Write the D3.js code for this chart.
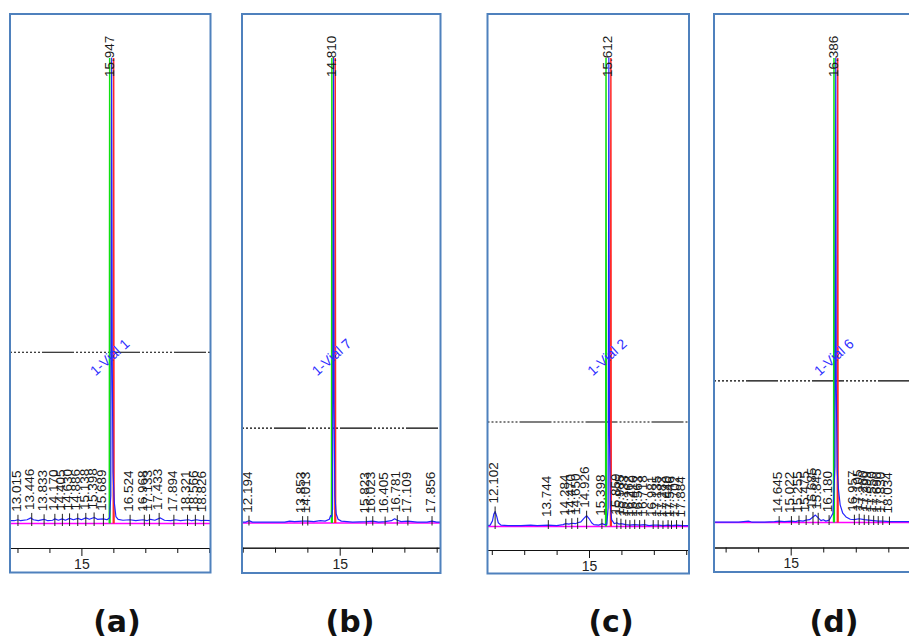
<!DOCTYPE html>
<html>
<head>
<meta charset="utf-8">
<script src="https://cdn.jsdelivr.net/npm/d3@7"></script>
<style>
  body { margin: 0; background: #fff; }
  svg { display: block; }
</style>
</head>
<body>
<svg id="chart" width="909" height="639"></svg>
<script>
// ---- data -------------------------------------------------------------
const panelNames = ["(a)", "(b)", "(c)", "(d)"];
const vialNames = ["1-Vial 1", "1-Vial 7", "1-Vial 2", "1-Vial 6"];

// retention-time window shown in each chromatogram (min)
const timeWindows = [[12.766, 19.04], [11.978, 18.118], [11.867, 18.086], [12.643, 18.82]];

// main peak (blue channel) and the same compound on the green / red channels
const mainPeaks  = ["15.947", "14.810", "15.612", "16.386"];
const greenPeaks = [15.885, 14.758, 15.525, 16.330];
const redPeaks   = [16.010, 14.862, 15.675, 16.445];
const peakHeight = 1000;

// dashed reference level (signal units)
const thresholds = [368, 204, 223, 305];

// integrated minor peaks (retention-time labels)
const minorA = ["13.015", "13.446", "13.833", "14.170", "14.405", "14.630", "14.886", "15.138", "15.398", "15.689",
                "16.524", "16.968", "17.133", "17.433", "17.894", "18.321", "18.566", "18.826"];
const minorB = ["12.194", "13.853", "14.013", "15.823", "16.023", "16.405", "16.781", "17.109", "17.856"];
const minorC = ["12.102", "13.744", "14.284", "14.470", "14.650", "14.926", "15.398",
                "15.859", "15.985", "16.133", "16.262", "16.410", "16.563", "16.718", "16.981", "17.135",
                "17.283", "17.440", "17.546", "17.702", "17.884"];
const minorD = ["14.645", "15.022", "15.255", "15.475", "15.685", "15.845", "16.180",
                "16.957", "17.105", "17.260", "17.399", "17.550", "17.690", "17.830", "18.034"];

// blue detector trace: [time (min), signal]
const blueA = [[12.77, 6], [12.9, 6], [13.015, 8], [13.1, 6], [13.3, 8], [13.42, 12], [13.5, 8], [13.65, 6],
  [13.83, 9], [13.95, 6], [14.1, 7], [14.17, 10], [14.28, 7], [14.4, 10], [14.5, 7], [14.63, 11], [14.75, 8],
  [14.89, 11], [15.0, 8], [15.14, 12], [15.25, 9], [15.4, 13], [15.5, 9], [15.69, 10], [15.8, 8], [15.88, 12],
  [15.92, 60], [15.947, 1000], [15.965, 350], [15.99, 110], [16.03, 45], [16.08, 15], [16.15, 9], [16.3, 7],
  [16.52, 8], [16.7, 6], [16.93, 8], [17.05, 6], [17.16, 9], [17.3, 7], [17.47, 12], [17.6, 7], [17.8, 6],
  [17.94, 8], [18.1, 6], [18.35, 8], [18.45, 6], [18.6, 8], [18.75, 6], [18.83, 7], [19.04, 6]];
const blueB = [[11.98, 2], [12.1, 2], [12.194, 5], [12.3, 2], [12.8, 2], [13.3, 2], [13.45, 4], [13.6, 3],
  [13.853, 4], [14.013, 4], [14.2, 3], [14.4, 5], [14.55, 4], [14.68, 8], [14.72, 16], [14.75, 14], [14.78, 30],
  [14.810, 1000], [14.825, 250], [14.85, 60], [14.89, 20], [14.95, 8], [15.05, 4], [15.4, 2], [15.823, 3],
  [16.023, 4], [16.2, 2], [16.405, 3], [16.6, 5], [16.70, 9], [16.781, 6], [16.9, 3], [17.109, 4], [17.4, 2],
  [17.7, 2], [17.856, 4], [18.0, 2], [18.12, 2]];
const blueC = [[11.87, 2], [11.95, 3], [12.02, 12], [12.06, 26], [12.102, 32], [12.15, 22], [12.2, 8],
  [12.28, 3], [12.5, 2], [12.9, 2], [13.2, 3], [13.4, 2], [13.744, 3], [14.0, 2], [14.2, 4], [14.284, 6],
  [14.38, 5], [14.47, 7], [14.58, 6], [14.65, 8], [14.75, 10], [14.85, 18], [14.926, 23], [15.0, 17],
  [15.08, 8], [15.15, 4], [15.3, 3], [15.398, 6], [15.48, 4], [15.55, 5], [15.59, 40], [15.612, 1000],
  [15.63, 200], [15.66, 40], [15.70, 14], [15.78, 6], [15.859, 8], [15.93, 5], [15.985, 6], [16.133, 4],
  [16.262, 3], [16.410, 4], [16.563, 3], [16.718, 4], [16.85, 2], [16.981, 3], [17.135, 3], [17.283, 2],
  [17.440, 3], [17.546, 2], [17.702, 3], [17.884, 2], [18.09, 2]];
const blueD = [[12.64, 1], [13.0, 1], [13.4, 1], [13.7, 3], [13.8, 1], [14.2, 1], [14.5, 2], [14.645, 3],
  [14.8, 2], [15.022, 3], [15.15, 2], [15.255, 4], [15.38, 3], [15.475, 5], [15.58, 6], [15.685, 12],
  [15.76, 16], [15.845, 10], [15.93, 4], [16.0, 6], [16.08, 3], [16.180, 5], [16.30, 20], [16.36, 120],
  [16.386, 1000], [16.40, 300], [16.43, 110], [16.47, 70], [16.52, 38], [16.60, 20], [16.70, 12], [16.83, 7],
  [16.957, 6], [17.105, 8], [17.260, 6], [17.399, 5], [17.550, 4], [17.690, 3], [17.830, 3], [18.034, 2],
  [18.3, 2], [18.82, 2]];

const minorLabels = [minorA, minorB, minorC, minorD];
const blueTraces = [blueA, blueB, blueC, blueD];

// ---- layout -----------------------------------------------------------
const frames = [
  { left: 10,  right: 210.5, top: 14, bottom: 572.5, base: 523.5, axisY: 548,   caption: 117 },
  { left: 242, right: 440.5, top: 14, bottom: 573,   base: 523,   axisY: 547.7, caption: 350 },
  { left: 487.5, right: 689, top: 14, bottom: 573.5, base: 526.5, axisY: 550,   caption: 611 },
  { left: 714, right: 915,   top: 14, bottom: 572,   base: 522.5, axisY: 547.5, caption: 834 }
];
const peakTopY = 58;
const vialY = 357;

const svg = d3.select("#chart");
const font = "'Liberation Sans', Arial, sans-serif";

frames.forEach((f, i) => {
  const x = d3.scaleLinear().domain(timeWindows[i]).range([f.left, f.right]);
  const y = d3.scaleLinear().domain([0, peakHeight]).range([f.base, peakTopY]);
  const line = d3.line().x(d => x(d[0])).y(d => y(d[1]));

  const clipId = "clip" + i;
  svg.append("clipPath").attr("id", clipId)
    .append("rect").attr("x", f.left).attr("y", f.top)
    .attr("width", f.right - f.left).attr("height", f.bottom - f.top);

  const g = svg.append("g").attr("clip-path", `url(#${clipId})`);

  // dashed reference level: a solid dash followed by a run of dots
  const dash = [32, 2].concat(d3.range(16).map(() => 2));
  g.append("line")
    .attr("x1", f.left).attr("x2", f.right)
    .attr("y1", y(thresholds[i])).attr("y2", y(thresholds[i]))
    .attr("stroke", "#000").attr("stroke-width", 1.1)
    .attr("stroke-dasharray", dash.join(" "))
    .attr("stroke-dashoffset", 34);

  // baseline
  g.append("path")
    .datum([[timeWindows[i][0], 0], [timeWindows[i][1], 0]])
    .attr("d", line).attr("fill", "none")
    .attr("stroke", "#ff00ff").attr("stroke-width", 1.6);

  // green and red channel spikes
  const spike = t => [[t - 0.012, 0], [t, peakHeight], [t + 0.012, 0]];
  g.append("path").datum(spike(greenPeaks[i])).attr("d", line)
    .attr("fill", "none").attr("stroke", "#10e010").attr("stroke-width", 1.5);
  g.append("path").datum(spike(redPeaks[i])).attr("d", line)
    .attr("fill", "none").attr("stroke", "#ff2a2a").attr("stroke-width", 1.5);

  // blue channel trace
  const blue = blueTraces[i];
  g.append("path").datum(blue).attr("d", line)
    .attr("fill", "none").attr("stroke", "#2424ff").attr("stroke-width", 1.2)
    .attr("stroke-linejoin", "round");

  // signal of the blue trace nearest a given time
  const bis = d3.bisector(d => d[0]).center;
  const valueAt = t => blue[bis(blue, t)][1];

  // minor peak labels and their markers
  minorLabels[i].forEach(lbl => {
    const t = +lbl;
    const yb = Math.min(y(valueAt(t)) - 8, f.base - 8);
    g.append("line")
      .attr("x1", x(t)).attr("x2", x(t))
      .attr("y1", yb + 3).attr("y2", f.base + 2.5)
      .attr("stroke", "#222").attr("stroke-width", 1);
    g.append("text")
      .attr("transform", `translate(${x(t) + 2.7},${yb}) rotate(-90)`)
      .attr("font-family", font).attr("font-size", 13.5).attr("fill", "#1a1a1a")
      .text(lbl);
  });

  // main peak label
  const mt = +mainPeaks[i];
  g.append("text")
    .attr("transform", `translate(${x(mt) + 2.7},${peakTopY + 19}) rotate(-90)`)
    .attr("font-family", font).attr("font-size", 13.5).attr("fill", "#1a1a1a")
    .text(mainPeaks[i]);

  // sample name
  g.append("text")
    .attr("transform", `translate(${x(mt) - 2},${vialY}) rotate(-42)`)
    .attr("text-anchor", "middle").attr("dominant-baseline", "central")
    .attr("font-family", font).attr("font-size", 14).attr("fill", "#3030ff")
    .text(vialNames[i]);

  // time axis: minute ticks, labelled every 5 min
  const minutes = d3.range(Math.ceil(timeWindows[i][0]), Math.floor(timeWindows[i][1]) + 1);
  const minor = minutes.filter(m => m % 5 !== 0);
  const major = minutes.filter(m => m % 5 === 0);
  const axG = g.append("g").attr("transform", `translate(0,${f.axisY})`);
  axG.call(d3.axisBottom(x).tickValues(minor).tickSize(5).tickSizeOuter(0).tickFormat(""));
  const axM = g.append("g").attr("transform", `translate(0,${f.axisY})`);
  axM.call(d3.axisBottom(x).tickValues(major).tickSize(8).tickSizeOuter(0).tickPadding(3).tickFormat(d3.format("d")));
  [axG, axM].forEach(a => {
    a.selectAll("path, line").attr("stroke", "#111").attr("stroke-width", 1);
    a.selectAll("text").attr("font-family", font).attr("font-size", 14).attr("fill", "#222");
  });

  // frame
  svg.append("rect")
    .attr("x", f.left).attr("y", f.top)
    .attr("width", f.right - f.left).attr("height", f.bottom - f.top)
    .attr("fill", "none").attr("stroke", "#4f81bd").attr("stroke-width", 2);

  // caption
  svg.append("text")
    .attr("x", f.caption).attr("y", 632)
    .attr("text-anchor", "middle")
    .attr("font-family", "'DejaVu Sans', Verdana, sans-serif")
    .attr("font-weight", "bold").attr("font-size", 30).attr("fill", "#111")
    .text(panelNames[i]);
});
</script>
</body>
</html>
